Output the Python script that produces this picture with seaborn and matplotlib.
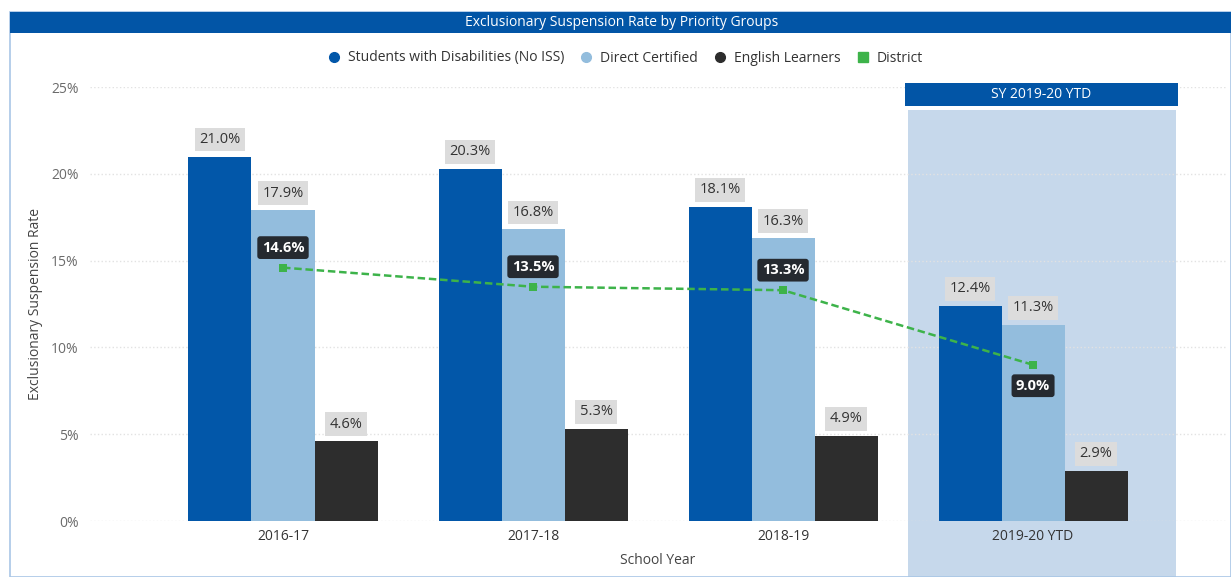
import pandas as pd
import seaborn as sns
import matplotlib.pyplot as plt
from matplotlib.patches import Rectangle
from matplotlib.lines import Line2D

YEARS = ['2016-17', '2017-18', '2018-19', '2019-20 YTD']
GROUPS = ['Students with Disabilities (No ISS)', 'Direct Certified', 'English Learners']
SWD = [21.0, 20.3, 18.1, 12.4]
DIRECT_CERT = [17.9, 16.8, 16.3, 11.3]
ENGLISH_LEARNERS = [4.6, 5.3, 4.9, 2.9]
DISTRICT = [14.6, 13.5, 13.3, 9.0]

COLORS = ['#0257a9', '#93bddd', '#2d2d2d']
GREEN = '#3db34a'

# long frame for seaborn
df = pd.DataFrame({
    'year': YEARS * 3,
    'group': [g for g in GROUPS for _ in YEARS],
    'rate': SWD + DIRECT_CERT + ENGLISH_LEARNERS,
})
dist = pd.DataFrame({'year': YEARS, 'rate': DISTRICT})

sns.set_style('white')
plt.rcParams['font.family'] = ['Open Sans', 'DejaVu Sans']

fig = plt.figure(figsize=(12.31, 5.77), dpi=100)
ax = fig.add_axes([0.0731, 0.097, 0.9229, 0.752])
ax.set_facecolor('none')

sns.barplot(data=df, x='year', y='rate', hue='group', hue_order=GROUPS,
            palette=COLORS, width=0.756, gap=0, saturation=1, ax=ax,
            legend=False, linewidth=0, zorder=2)

# district line on category positions
sns.lineplot(x=range(len(YEARS)), y=dist['rate'], ax=ax, color=GREEN,
             linestyle=(0, (3, 1.5)), linewidth=1.8, marker='s', markersize=6,
             markeredgewidth=0, zorder=4)

ax.set_xlim(-0.772, 3.772)
ax.set_ylim(0, 25)
ax.set_yticks([0, 5, 10, 15, 20, 25])
ax.set_yticklabels([f'{v}%' for v in [0, 5, 10, 15, 20, 25]])
ax.tick_params(axis='y', colors='#6b6b6b', labelsize=10, length=0, pad=8)
ax.tick_params(axis='x', colors='#333333', labelsize=10, length=0, pad=6)
ax.yaxis.grid(True, color='#e2e2e2', linestyle=':', linewidth=1, zorder=0)
ax.set_axisbelow(True)
sns.despine(ax=ax, left=True, bottom=True)
ax.set_xlabel('School Year', fontsize=10, color='#444444', labelpad=6)
ax.set_ylabel('Exclusionary Suspension Rate', fontsize=10, color='#444444', labelpad=6)

# highlighted YTD column
ax.add_patch(Rectangle((2.5, -3.3), 1.07, 26.97, facecolor='#c6d8eb',
                       edgecolor='none', zorder=0.5, clip_on=False))
ax.add_patch(Rectangle((2.488, 23.9), 1.092, 1.33, facecolor='#0255a6',
                       edgecolor='none', zorder=3, clip_on=False))
ax.text(3.034, 24.55, 'SY 2019-20 YTD', color='white', fontsize=10,
        ha='center', va='center', zorder=4)

# bar labels
for container in ax.containers:
    for bar in container:
        h = bar.get_height()
        ax.text(bar.get_x() + bar.get_width() / 2, h + 0.55, f'{h:.1f}%',
                ha='center', va='bottom', fontsize=10.5, color='#333333', zorder=5,
                bbox=dict(boxstyle='square,pad=0.3', facecolor='#dcdcdc', edgecolor='none'))

# district labels
for i, v in enumerate(DISTRICT):
    y = v + 0.75 if i < 3 else v - 0.8
    va = 'bottom' if i < 3 else 'top'
    ax.text(i, y, f'{v:.1f}%', ha='center', va=va, fontsize=10.5, color='white',
            fontweight='bold', zorder=6,
            bbox=dict(boxstyle='round,pad=0.3,rounding_size=0.2', facecolor='#252a30', edgecolor='none'))

# title bar and frame
fig.patches.append(Rectangle((10 / 1231, 0.0), 1 - 10 / 1231, 1 - 12 / 577,
                             transform=fig.transFigure, facecolor='none',
                             edgecolor='#a9c6e6', linewidth=1.2))
fig.patches.append(Rectangle((10 / 1231, 1 - 33 / 577), 1 - 10 / 1231, 21 / 577,
                             transform=fig.transFigure, facecolor='#0255a6',
                             edgecolor='none'))
fig.text(0.505, 1 - 22.5 / 577, 'Exclusionary Suspension Rate by Priority Groups',
         color='white', fontsize=10, ha='center', va='center')

# legend
handles = [Line2D([], [], marker='o', linestyle='', color=c, markersize=7) for c in COLORS]
handles.append(Line2D([], [], marker='s', linestyle='', color=GREEN, markersize=7))
fig.legend(handles, GROUPS + ['District'], loc='center', bbox_to_anchor=(0.505, 1 - 58 / 577),
           ncol=4, frameon=False, fontsize=10, handletextpad=0.0, columnspacing=0.6,
           labelcolor='#333333')

fig.savefig('out.png', dpi=100)
